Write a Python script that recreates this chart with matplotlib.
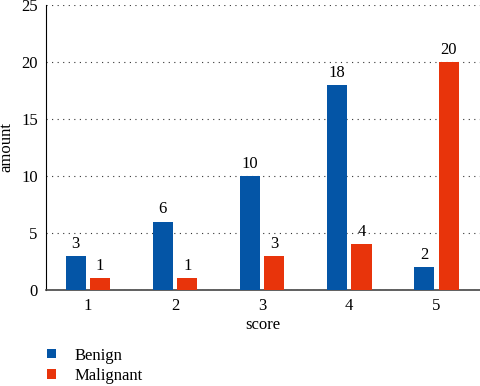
import numpy as np
import matplotlib.pyplot as plt

# Datos
scores = ["1", "2", "3", "4", "5"]
benign = [3, 6, 10, 18, 2]
malignant = [1, 1, 3, 4, 20]

color_benign = "#0455a6"
color_malig = "#e8340b"

plt.rcParams["font.family"] = ["Liberation Serif", "DejaVu Serif"]
plt.rcParams["font.size"] = 12

fig = plt.figure(figsize=(4.8, 3.86), dpi=100)
ax = fig.add_axes([0.096, 0.249, 0.904, 0.738])

x = np.arange(len(scores))
w = 0.23
b1 = ax.bar(x - 0.14, benign, w, color=color_benign, label="Benign", zorder=3)
b2 = ax.bar(x + 0.14, malignant, w, color=color_malig, label="Malignant", zorder=3)
ax.bar_label(b1, padding=3)
ax.bar_label(b2, padding=3)

ax.set_xlim(-0.48, 4.5)
ax.set_ylim(0, 25)
ax.set_yticks([0, 5, 10, 15, 20, 25])
ax.set_xticks(x)
ax.set_xticklabels(scores)
ax.tick_params(length=0, pad=6)
ax.grid(True, axis="y", ls=(0, (1, 4)), color="#333333", lw=0.8, zorder=0)

for s in ["top", "right"]:
    ax.spines[s].set_visible(False)
ax.spines["left"].set_color("black")
ax.spines["bottom"].set_color("#444444")
ax.spines["bottom"].set_linewidth(1.2)

ax.set_xlabel("score", labelpad=2)
ax.set_ylabel("amount")
ax.yaxis.set_label_coords(-0.072, 0.5)

fig.legend(handles=[b1, b2], loc="upper left", bbox_to_anchor=(0.085, 0.117),
           frameon=False, handlelength=0.5, handleheight=0.5, handletextpad=1.1,
           labelspacing=0.25, borderaxespad=0)

fig.savefig("out.png", dpi=100)
